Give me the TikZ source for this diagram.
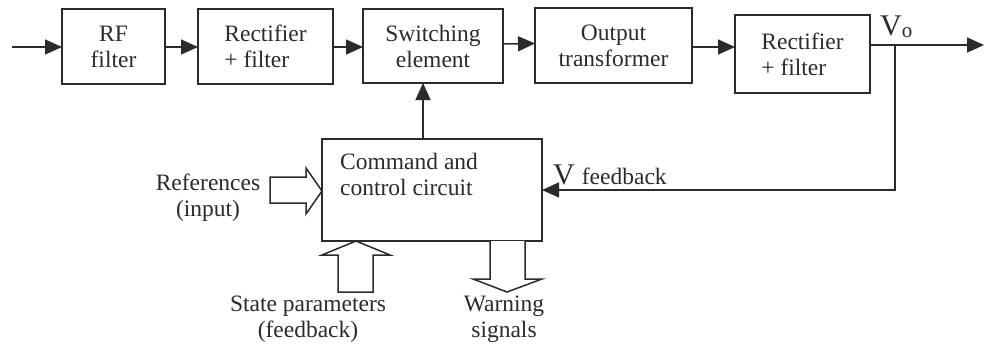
\documentclass[tikz,border=0pt]{standalone}
\usepackage{fontspec}
\setmainfont{Liberation Serif}
\usetikzlibrary{arrows.meta,calc}
\definecolor{ink}{HTML}{2B2B2B}
\tikzset{
  blk/.style={draw=ink, line width=1.5pt, inner sep=0pt, outer sep=0pt, text=ink,
    font=\fontsize{23.5}{26}\selectfont},
  lbl/.style={inner sep=0pt, text=ink, font=\fontsize{23.5}{26}\selectfont},
  conn/.style={draw=ink, line width=1.5pt, -{Triangle[length=17pt,width=15pt]}},
  plain/.style={draw=ink, line width=1.5pt},
  hollow/.style={draw=ink, line width=1.5pt, fill=white, line join=miter}
}
\begin{document}
\begin{tikzpicture}[x=1pt,y=-1pt]
\useasboundingbox (0,0) rectangle (984,343);
\fill[white] (0,0) rectangle (984,343);
% blocks
\node[blk, minimum width=103pt, minimum height=75pt, align=center] (rf) at (113.5,46.5) {RF\\filter};
\node[blk, minimum width=135pt, minimum height=75pt, align=left] (rect1) at (265.5,46.5) {Rectifier\\+ filter};
\node[blk, minimum width=140pt, minimum height=74pt, align=center] (sw) at (433,46) {Switching\\element};
\node[blk, minimum width=157pt, minimum height=75pt, align=center] (out) at (613.5,45.5) {Output\\transformer};
\node[blk, minimum width=135pt, minimum height=78pt, align=left] (rect2) at (802.5,54) {Rectifier\\+ filter};
\node[blk, minimum width=220pt, minimum height=102pt] (ccc) at (432,190) {};
\node[lbl, anchor=north west, align=left] (ccctext) at (340,153) {Command and\\control circuit};
% coordinates
\coordinate (in) at (12,47);
\coordinate (outend) at (984,45);
\coordinate (tap) at (895,45);
\coordinate (fbcorner) at (895,190);
\coordinate (cmdtop) at (423,139);
% main chain
\draw[conn] (in) -- (rf.west |- in);
\draw[conn] (rf.east |- in) -- (rect1.west |- in);
\draw[conn] (rect1.east |- in) -- (sw.west |- in);
\draw[conn] ($(sw.east)+(0,-2)$) -- ($(out.west)+(0,-2)$);
\draw[conn] (out.east |- in) -- (rect2.west |- in);
\draw[conn] (rect2.east |- outend) -- (outend);
% feedback
\draw[conn] (tap) -- (fbcorner) -- (ccc.east);
\draw[conn] (cmdtop) -- (cmdtop |- sw.south);
% labels
\node[lbl, anchor=base west] (vo) at (880,35) {{\fontsize{30}{30}\selectfont V}\raisebox{-2pt}{\fontsize{21}{21}\selectfont o}};
\node[lbl, anchor=base west] (vfb) at (553,184) {{\fontsize{30}{30}\selectfont V}\hspace{7pt}feedback};
% hollow arrows
\draw[hollow] (270,177) -- (306,177) -- (306,168) -- (322,191) -- (306,214) -- (306,203) -- (270,203) -- cycle;
\draw[hollow] (338,292) -- (338,255) -- (322,255) -- (356,241) -- (390,255) -- (373,255) -- (373,292) -- cycle;
\draw[hollow] (490,241) -- (490,279) -- (473,279) -- (507,292) -- (542,279) -- (525,279) -- (525,241);
\node[lbl, align=center] (refs) at (208,198) {References\\(input)};
\node[lbl, align=center, anchor=north] (state) at (308,296) {State parameters\\(feedback)};
\node[lbl, align=center, anchor=north] (warn) at (504,296) {Warning\\signals};
\end{tikzpicture}
\end{document}
